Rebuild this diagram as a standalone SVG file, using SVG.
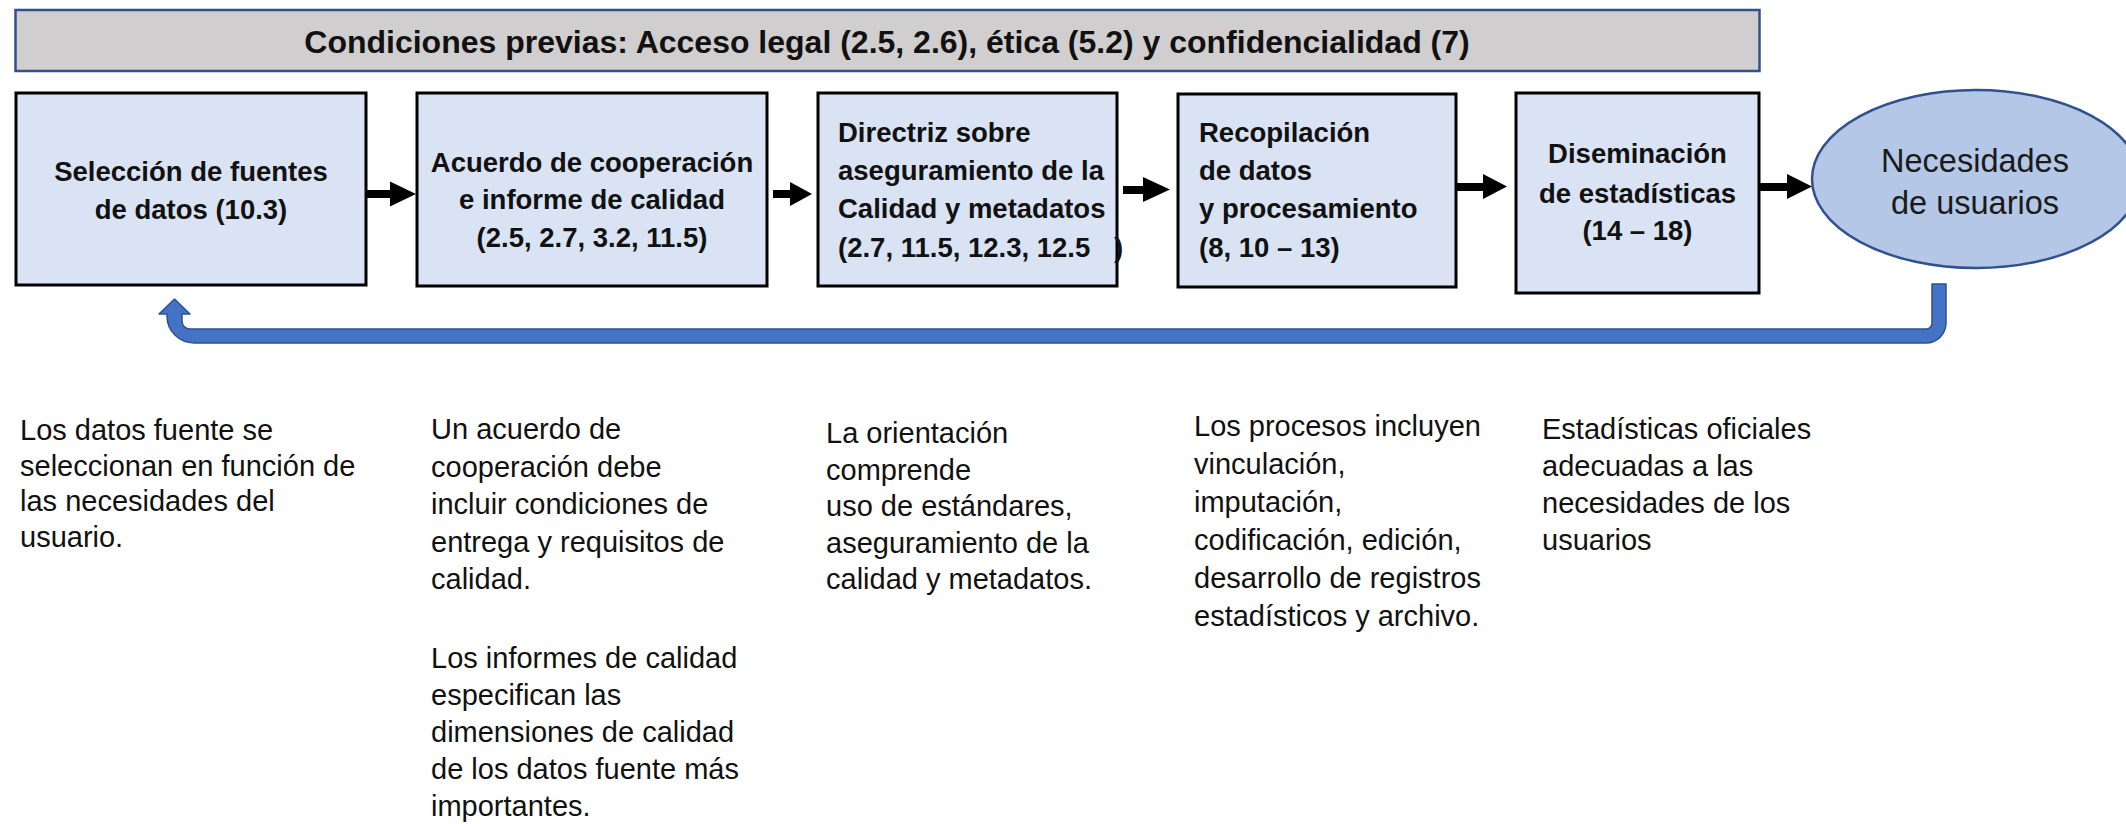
<svg xmlns="http://www.w3.org/2000/svg" width="2126" height="824" viewBox="0 0 2126 824">
<style>
.box{fill:#dae3f3;stroke:#000;stroke-width:3}
.bt{font-family:"Liberation Sans",Arial,sans-serif;font-weight:bold;font-size:27.5px;fill:#111}
.c{text-anchor:middle}
.body{font-family:"Liberation Sans",Arial,sans-serif;font-size:29px;fill:#111}
.arr{fill:#000}
</style>
<rect width="2126" height="824" fill="#fff"/>
<g id="banner">
<rect x="15.5" y="10" width="1744" height="61" fill="#d0cece" stroke="#2f528f" stroke-width="2.5"/>
<text x="887" y="53" class="c" font-family="Liberation Sans, Arial, sans-serif" font-weight="bold" font-size="32" fill="#111">Condiciones previas: Acceso legal (2.5, 2.6), ética (5.2) y confidencialidad (7)</text>
</g>
<g id="n1">
<rect class="box" x="16" y="93" width="350" height="192"/>
<text class="bt c"><tspan x="191" y="181">Selección de fuentes</tspan><tspan x="191" y="219">de datos (10.3)</tspan></text>
</g>
<g id="n2">
<rect class="box" x="417" y="93" width="350" height="193"/>
<text class="bt c"><tspan x="592" y="172">Acuerdo de cooperación</tspan><tspan x="592" y="209">e informe de calidad</tspan><tspan x="592" y="247">(2.5, 2.7, 3.2, 11.5)</tspan></text>
</g>
<g id="n3">
<rect class="box" x="818" y="93" width="299" height="193"/>
<text class="bt"><tspan x="838" y="142">Directriz sobre</tspan><tspan x="838" y="180">aseguramiento de la</tspan><tspan x="838" y="218">Calidad y metadatos</tspan><tspan x="838" y="257">(2.7, 11.5, 12.3, 12.5</tspan><tspan x="1114" y="257">)</tspan></text>
</g>
<g id="n4">
<rect class="box" x="1178" y="94" width="278" height="193"/>
<text class="bt"><tspan x="1199" y="142">Recopilación</tspan><tspan x="1199" y="180">de datos</tspan><tspan x="1199" y="218">y procesamiento</tspan><tspan x="1199" y="257">(8, 10 – 13)</tspan></text>
</g>
<g id="n5">
<rect class="box" x="1516" y="93" width="243" height="200"/>
<text class="bt c"><tspan x="1637.5" y="163">Diseminación</tspan><tspan x="1637.5" y="203">de estadísticas</tspan><tspan x="1637.5" y="240">(14 – 18)</tspan></text>
</g>
<g id="n6">
<ellipse cx="1976" cy="179" rx="164" ry="89" fill="#b4c7e7" stroke="#2f528f" stroke-width="2.5"/>
<text font-family="Liberation Sans, Arial, sans-serif" font-size="32.5" fill="#1a1a1a" class="c"><tspan x="1975" y="172">Necesidades</tspan><tspan x="1975" y="214">de usuarios</tspan></text>
</g>
<g id="connectors">
<path class="arr" d="M366 190h26v8h-26z M390 181.5L416 194L390 206.5z"/>
<path class="arr" d="M773 190h19v8h-19z M790 182L812 194L790 206z"/>
<path class="arr" d="M1123 186h22v8h-22z M1143 177L1170 189.5L1143 202z"/>
<path class="arr" d="M1456 183h29v8h-29z M1483 174L1507 186.5L1483 199z"/>
<path class="arr" d="M1759 183h30v8h-30z M1787 174L1812 186.5L1787 199z"/>
<path fill="#4472c4" stroke="#2f528f" stroke-width="1.5" stroke-linejoin="round" d="M1932 284H1946V323A20 20 0 0 1 1926 343H194A27 27 0 0 1 167 316V314H159L174.5 299L190 314H182V321A8 8 0 0 0 190 329H1926A6 6 0 0 0 1932 323Z"/>
</g>
<g id="notes">
<text class="body"><tspan x="20" y="440">Los datos fuente se</tspan><tspan x="20" y="475.5">seleccionan en función de</tspan><tspan x="20" y="511">las necesidades del</tspan><tspan x="20" y="546.5">usuario.</tspan></text>
<text class="body"><tspan x="431" y="439">Un acuerdo de</tspan><tspan x="431" y="476.5">cooperación debe</tspan><tspan x="431" y="514">incluir condiciones de</tspan><tspan x="431" y="551.5">entrega y requisitos de</tspan><tspan x="431" y="589">calidad.</tspan><tspan x="431" y="668">Los informes de calidad</tspan><tspan x="431" y="705">especifican las</tspan><tspan x="431" y="742">dimensiones de calidad</tspan><tspan x="431" y="779">de los datos fuente más</tspan><tspan x="431" y="816">importantes.</tspan></text>
<text class="body"><tspan x="826" y="443">La orientación</tspan><tspan x="826" y="479.5">comprende</tspan><tspan x="826" y="516">uso de estándares,</tspan><tspan x="826" y="552.5">aseguramiento de la</tspan><tspan x="826" y="589">calidad y metadatos.</tspan></text>
<text class="body"><tspan x="1194" y="436">Los procesos incluyen</tspan><tspan x="1194" y="474">vinculación,</tspan><tspan x="1194" y="512">imputación,</tspan><tspan x="1194" y="550">codificación, edición,</tspan><tspan x="1194" y="588">desarrollo de registros</tspan><tspan x="1194" y="626">estadísticos y archivo.</tspan></text>
<text class="body"><tspan x="1542" y="439">Estadísticas oficiales</tspan><tspan x="1542" y="476">adecuadas a las</tspan><tspan x="1542" y="513">necesidades de los</tspan><tspan x="1542" y="550">usuarios</tspan></text>
</g>
</svg>
